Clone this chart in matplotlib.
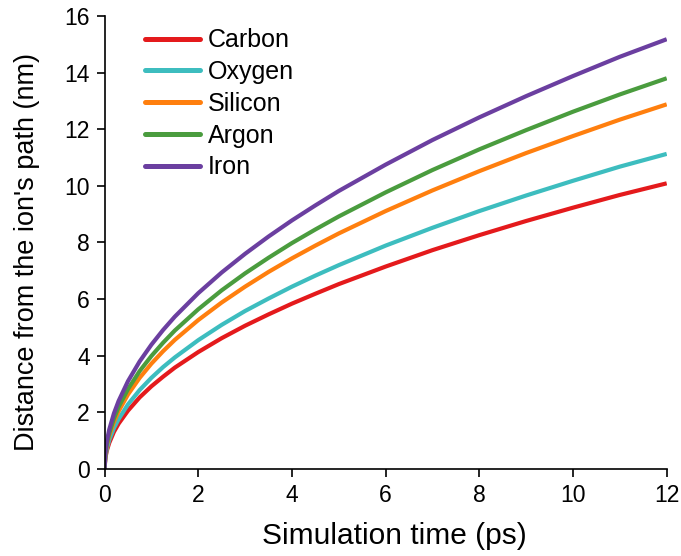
import matplotlib
matplotlib.use('Agg')
import matplotlib.pyplot as plt
import numpy as np

plt.rcParams['font.family'] = ['Liberation Sans', 'DejaVu Sans']

# Simulation time (ps) and radial distance (nm) for each ion species
time_ps = [0, 0.02, 0.05, 0.1, 0.2, 0.3, 0.5, 0.75, 1, 1.25, 1.5, 2, 2.5, 3, 3.5,
           4, 4.5, 5, 6, 7, 8, 9, 10, 11, 12]
carbon = [0, 0.41, 0.65, 0.92, 1.31, 1.60, 2.06, 2.53, 2.92, 3.26, 3.58, 4.13, 4.62,
          5.06, 5.46, 5.84, 6.19, 6.53, 7.15, 7.73, 8.26, 8.76, 9.23, 9.68, 10.09]
oxygen = [0, 0.46, 0.72, 1.02, 1.44, 1.76, 2.28, 2.79, 3.22, 3.60, 3.94, 4.55, 5.09,
          5.58, 6.02, 6.44, 6.83, 7.20, 7.89, 8.52, 9.11, 9.66, 10.18, 10.68, 11.13]
silicon = [0, 0.53, 0.83, 1.18, 1.66, 2.04, 2.63, 3.22, 3.72, 4.16, 4.56, 5.26, 5.88,
           6.44, 6.96, 7.44, 7.89, 8.32, 9.11, 9.84, 10.52, 11.16, 11.76, 12.34, 12.88]
argon = [0, 0.56, 0.89, 1.26, 1.78, 2.19, 2.82, 3.46, 3.99, 4.46, 4.89, 5.64, 6.31,
         6.91, 7.46, 7.98, 8.46, 8.92, 9.77, 10.56, 11.29, 11.97, 12.62, 13.23, 13.80]
iron = [0, 0.62, 0.98, 1.39, 1.96, 2.40, 3.10, 3.80, 4.39, 4.91, 5.38, 6.21, 6.94,
        7.60, 8.21, 8.78, 9.31, 9.82, 10.75, 11.62, 12.42, 13.17, 13.88, 14.56, 15.18]

names = ['Carbon', 'Oxygen', 'Silicon', 'Argon', 'Iron']
series = [carbon, oxygen, silicon, argon, iron]
colors = ['#e41a1c', '#3dbdbf', '#ff7f0e', '#4a9c3e', '#6b3fa0']

fig = plt.figure(figsize=(6.81, 5.56), dpi=100)
ax = fig.add_axes([0.1535, 0.1565, 0.8255, 0.8147])

for name, vals, c in zip(names, series, colors):
    ax.plot(time_ps, vals, color=c, lw=3, label=name, solid_capstyle='butt',
            solid_joinstyle='round')

ax.set_xlim(0, 12)
ax.set_ylim(0, 16)
ax.set_xticks(np.arange(0, 13, 2))
ax.set_yticks(np.arange(0, 17, 2))
ax.spines['top'].set_visible(False)
ax.spines['right'].set_visible(False)
for s in ['left', 'bottom']:
    ax.spines[s].set_linewidth(1.2)
ax.tick_params(direction='out', length=6, width=1.2, labelsize=16.5, pad=4.5)
ax.set_xlabel('Simulation time (ps)', fontsize=21.5)
ax.set_ylabel("Distance from the ion's path (nm)", fontsize=19.5)
ax.xaxis.set_label_coords(0.516, -0.118)
ax.yaxis.set_label_coords(-0.114, 0.478)

leg = ax.legend(loc='upper left', bbox_to_anchor=(0.055, 0.995), frameon=False,
                fontsize=18, handlelength=2.2, handletextpad=0.3,
                labelspacing=0.31, borderaxespad=0)
for line in leg.get_lines():
    line.set_linewidth(3.6)
    line.set_solid_capstyle('round')

fig.savefig('out.png', dpi=100)
